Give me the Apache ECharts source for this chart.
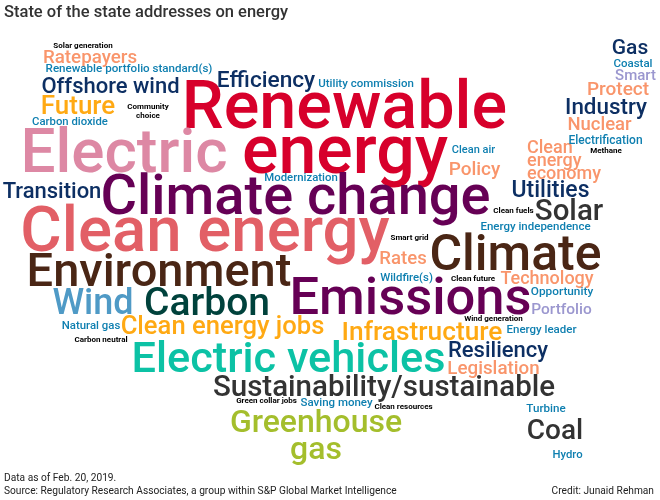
<!DOCTYPE html>
<html><head><meta charset="utf-8">
<style>html,body{margin:0;padding:0;background:#fff}#c{width:660px;height:500px}</style>
<script src="https://cdn.jsdelivr.net/npm/echarts@6/dist/echarts.min.js"></script>
</head><body><div id="c"></div>
<script>
const palette = {red:'#D7002B',pink:'#DD88A4',purple:'#660055',coral:'#E25F66',brown:'#4A2615',teal:'#0CC2A5',dark:'#333333',green:'#A4BE2C',sky:'#4F9AC6',pine:'#00423C',orange:'#FFA913',navy:'#0D2F63',salmon:'#F9956B',blue:'#0E7FB0',lav:'#9B97CF',black:'#000000'};
const words = ['Renewable','energy','Electric','Climate change','Clean energy','Climate','Emissions','Environment','Electric vehicles','Sustainability/sustainable','Greenhouse\ngas','Carbon','Wind','Coal','Solar','Clean energy jobs','Infrastructure','Future','Offshore wind','Efficiency','Transition','Industry','Gas','Utilities','Resiliency','Ratepayers','Protect','Nuclear','Clean\nenergy\neconomy','Policy','Rates','Technology','Legislation','Smart','Portfolio','Renewable portfolio standard(s)','Carbon dioxide','Utility commission','Coastal','Electrification','Clean air','Modernization','Energy independence','Wildfire(s)','Opportunity','Energy leader','Natural gas','Saving money','Turbine','Hydro','Solar generation','Community\nchoice','Methane','Clean fuels','Smart grid','Clean future','Wind generation','Carbon neutral','Green collar jobs','Clean resources'];
const weights = [66.5,68,62,56,63.5,50,52.5,47,43.3,29.5,32,39,36,28,29.5,25.6,26.3,26,22,22.7,22,22.4,21,23,22,18.8,19,18.5,18,19,18.6,18,18.8,15,15.5,11.6,11.3,11.5,11.5,12,11,11.4,11.5,11.4,11.8,11.5,11.4,11.5,11.6,11.3,8,8,8,8,8,8,8,8,8,8];
const wordX = [344.5,345,124,295.5,205,515.5,410.5,159,288.5,384,316,207,93,555,569,222.5,422,78,110.5,266,52,606,630,550.5,498,90,618,599.5,527,474.5,403,547,493.5,635.5,561.5,129,70,366,633,605.5,473.5,301,535.5,406.5,562,541.5,91,336.5,546,567.5,83,148,606,513.5,409.5,473,493.5,101,266.5,403.5];
const wordY = [111,156,156,200,235,257,301,274,361,389,437,305,305,432,213,328,333,107,87,81,192,108,49,191,351,58,90,125,161,170,259,279,369,76,310,69.5,122.5,84.5,64.5,140.5,150.5,178.5,227.5,278.5,292.5,330.5,326.5,403.5,409.5,455.5,46,111,151,211,238,279,319,340,401,407];
const tones = ['red','red','pink','purple','coral','brown','purple','brown','teal','dark','green','pine','sky','dark','dark','orange','orange','orange','navy','navy','navy','navy','navy','navy','navy','salmon','salmon','salmon','salmon','salmon','salmon','salmon','salmon','lav','lav','blue','blue','blue','blue','blue','blue','blue','blue','blue','blue','blue','blue','blue','blue','blue','black','black','black','black','black','black','black','black','black','black'];
const titleText = 'State of the state addresses on energy';
const noteText = 'Data as of Feb. 20, 2019.\nSource: Regulatory Research Associates, a group within S&P Global Market Intelligence';
const creditText = 'Credit: Junaid Rehman';

const chart = echarts.init(document.getElementById('c'),null,{renderer:'canvas'});
const FONT='Roboto';
chart.setOption({
  animation:false,
  backgroundColor:'#fff',
  title:[
    {text:titleText,left:4,top:4,padding:0,textStyle:{fontFamily:FONT,fontSize:16.5,fontWeight:500,color:'#333'}},
    {text:noteText,left:4,top:472,padding:0,textStyle:{fontFamily:FONT,fontSize:10.2,fontWeight:400,color:'#222',lineHeight:13}},
    {text:creditText,right:6,top:485,padding:0,textStyle:{fontFamily:FONT,fontSize:10.2,fontWeight:400,color:'#222',lineHeight:13}}
  ],
  grid:{left:0,right:0,top:0,bottom:0},
  xAxis:{type:'value',min:0,max:660,show:false},
  yAxis:{type:'value',min:0,max:500,inverse:true,show:false},
  series:[{
    type:'scatter',silent:true,symbolSize:1,itemStyle:{color:'transparent',opacity:1},
    data:words.map((w,i)=>({
      value:[wordX[i],wordY[i]],
      label:{show:true,position:'inside',formatter:w,opacity:1,
        align:w.startsWith('Clean\n')?'left':'center',verticalAlign:'middle',
        fontFamily:FONT,fontWeight:weights[i]<9?700:500,fontSize:weights[i],
        lineHeight:w.indexOf('\n')>=0?(w.startsWith('Clean\n')?13:(weights[i]<9?9:27)):undefined,
        color:palette[tones[i]]}
    }))
  }]
});
</script></body></html>
